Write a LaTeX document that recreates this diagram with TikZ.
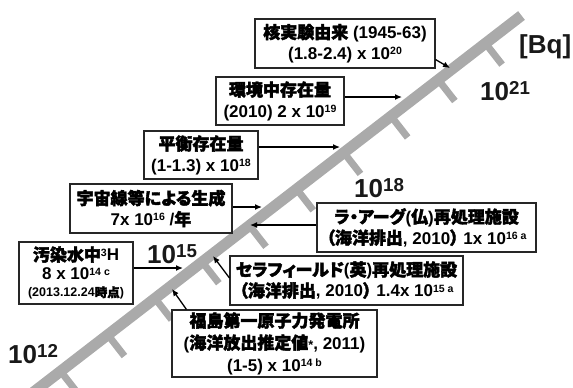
\documentclass[tikz,border=0pt]{standalone}
\usepackage{fontspec}
\usepackage{graphicx}
\setmainfont{Liberation Sans}
\newfontfamily\jp{Noto Sans CJK JP}[FakeBold=2.3, RawFeature=+palt]
\usetikzlibrary{arrows.meta,calc}
\definecolor{axisgray}{RGB}{170,170,170}
\newcommand\up[1]{\raisebox{0.28em}{\scalebox{0.62}{#1}}}
\newcommand\bigup[1]{\raisebox{0.22em}{\scalebox{0.72}{#1}}}
\newcommand\jt[1]{{\jp #1}}
\begin{document}
\begin{tikzpicture}[x=1bp,y=-1bp,
  box/.style={draw=black!85, line width=1.1bp, fill=white, align=center, inner sep=0pt,
    font=\fontsize{17bp}{21bp}\selectfont\bfseries},
  arr/.style={draw=black, line width=1.3bp, -{Latex[length=7bp,width=6bp]}},
  big/.style={font=\fontsize{26bp}{30bp}\selectfont\bfseries, inner sep=0pt, anchor=base west, text=black!90},
  axisline/.style={draw=axisgray, line width=11bp},
  tickline/.style={draw=axisgray, line width=7bp}]
\useasboundingbox (0,0) rectangle (573,387);
\begin{scope}
  \clip (0,0) rectangle (573,387);
  \coordinate (T) at (521.5,15.5);
  \coordinate (Bt) at (19,403.3);
  \foreach \k in {0,...,9}{
    \pgfmathsetmacro\pp{(45.6+59.75*\k)/636}
    \draw[tickline] ($(T)!\pp!(Bt)$) -- ++(16.6,21.3);
  }
  \draw[axisline] (Bt) -- (T);
\end{scope}

\node[big] (l12) at (8,363) {10\bigup{12}};
\node[big] (l15) at (147,263) {10\bigup{15}};
\node[big] (l18) at (354,197) {10\bigup{18}};
\node[big] (l21) at (480,100) {10\bigup{21}};
\node[big] (bq) at (519,53) {[Bq]};

\node[box, minimum width=180bp, minimum height=49bp] (b1) at (345,43.5)
  {\jt{核実験由来} (1945-63)\\(1.8-2.4) x 10\up{20}};
\node[box, minimum width=128bp, minimum height=48bp] (b2) at (280,101)
  {\jt{環境中存在量}\\(2010) 2 x 10\up{19}};
\node[box, minimum width=114bp, minimum height=48bp] (b3) at (201,155)
  {\jt{平衡存在量}\\(1-1.3) x 10\up{18}};
\node[box, minimum width=162bp, minimum height=49bp] (b4) at (151,208.5)
  {\jt{宇宙線等による生成}\\7x 10\up{16} /\jt{年}};
\node[box, minimum width=219bp, minimum height=49bp] (b5) at (426.5,227.5)
  {\jt{ラ・アーグ}(\jt{仏})\jt{再処理施設}\\\jt{（海洋排出}, 2010\jt{）} 1x 10\up{16 a}};
\node[box, minimum width=233bp, minimum height=49bp] (b6) at (346.5,280.5)
  {\jt{セラフィールド}(\jt{英})\jt{再処理施設}\\\jt{（海洋排出}, 2010\jt{）} 1.4x 10\up{15 a}};
\node[box, minimum width=205bp, minimum height=67bp,
  font=\fontsize{17bp}{22bp}\selectfont\bfseries] (b7) at (274.5,343.5)
  {\jt{福島第一原子力発電所}\\(\jt{海洋放出推定値}\scalebox{0.75}{*}, 2011)\\(1-5) x 10\up{14 b}};
\node[box, minimum width=114bp, minimum height=62bp,
  font=\fontsize{17bp}{19bp}\selectfont\bfseries] (b8) at (76,273)
  {\jt{汚染水中}\up{3}H\\8 x 10\up{14 c}\\[-2bp]{\fontsize{12.5bp}{15bp}\selectfont (2013.12.24\jt{時点})}};

\coordinate (t1) at (450,68);
\coordinate (t2) at (402,97);
\coordinate (t3) at (340,147);
\coordinate (t4) at (262,207);
\coordinate (t5) at (250,225);
\coordinate (t6) at (213,256);
\coordinate (t7) at (172,289);
\coordinate (t8) at (183,268);
\draw[arr] ($(b1.south east)+(0,-9)$) -- (t1);
\draw[arr] (b2.east |- t2) -- (t2);
\draw[arr] (b3.east |- t3) -- (t3);
\draw[arr] (b4.east |- t4) -- (t4);
\draw[arr] (b5.west |- t5) -- (t5);
\draw[arr] ($(b6.west)+(0,-2.5)$) -- (t6);
\draw[arr] ($(b7.north west)+(15,0)$) -- (t7);
\draw[arr] (b8.east |- t8) -- (t8);
\end{tikzpicture}
\end{document}
